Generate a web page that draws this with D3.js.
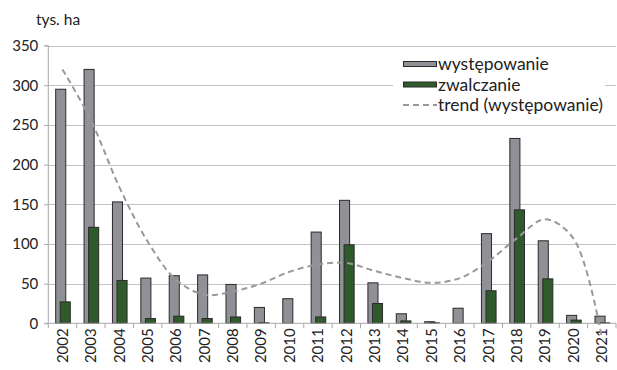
<!DOCTYPE html>
<html>
<head>
<meta charset="utf-8">
<script src="https://cdn.jsdelivr.net/npm/d3@7"></script>
<style>
  html, body { margin: 0; padding: 0; background: #fff; }
  svg { display: block; font-family: Lato, "Open Sans", sans-serif; }
</style>
</head>
<body>
<svg id="chart" width="617" height="370"></svg>
<script>
// Area affected (występowanie) and treated (zwalczanie), thousand ha
const years = ["2002","2003","2004","2005","2006","2007","2008","2009","2010","2011",
               "2012","2013","2014","2015","2016","2017","2018","2019","2020","2021"];
const wystepowanie = [295, 320, 153, 57, 60, 61, 49, 20, 31, 115,
                      155, 51, 12, 2, 19, 113, 233, 104, 10, 9];
const zwalczanie   = [27, 121, 54, 6, 9, 6, 8, 0.6, 0, 8,
                      99, 25, 3, 0.6, 0, 41, 143, 56, 4, 0.5];
// Polynomial trend of występowanie, sampled per year
const trend        = [320, 256, 172, 103, 55, 36, 40, 50, 65, 74,
                      76, 66, 57, 51, 57, 78, 107, 131, 107, -18];
const yTicks = [0, 50, 100, 150, 200, 250, 300, 350];
const legendLabels = ["występowanie", "zwalczanie", "trend (występowanie)"];

const svg = d3.select("#chart");
const plotLeft = 48.3, plotRight = 616, plotTop = 45.6, plotBottom = 323.3;

const x = d3.scaleBand().domain(years).range([plotLeft, plotRight]).padding(0);
const y = d3.scaleLinear().domain([0, 350]).range([plotBottom, plotTop]);
const bw = x.bandwidth();

const grayFill = "#909196", greenFill = "#2f5a2b", barStroke = "#2a2a2a";
const gridColor = "#c3c3c3", axisColor = "#a8a8a8", textColor = "#222";

// gridlines
svg.append("g").selectAll("line").data(yTicks.filter(d => d > 0)).join("line")
  .attr("x1", plotLeft).attr("x2", plotRight)
  .attr("y1", d => Math.round(y(d)) + 0.5).attr("y2", d => Math.round(y(d)) + 0.5)
  .attr("stroke", gridColor).attr("stroke-width", 1.2);

// y axis
const yAxis = svg.append("g").attr("transform", `translate(${plotLeft},0)`)
  .call(d3.axisLeft(y).tickValues(yTicks).tickSize(4).tickPadding(6));
yAxis.select(".domain").attr("stroke", axisColor).attr("d", `M-4,${y(350)}H0V${plotBottom}H-4`);
yAxis.selectAll(".tick line").attr("stroke", axisColor);
yAxis.selectAll(".tick text").attr("fill", textColor).style("font-size", "15px")
  .style("font-family", "Lato, sans-serif");

svg.append("text").attr("x", 36).attr("y", 25).attr("fill", textColor)
  .style("font-size", "15.5px").text("tys. ha");

// bars
const barW = bw * 0.355;
const g = svg.append("g");
g.selectAll("rect.w").data(years).join("rect").attr("class", "w")
  .attr("x", d => x(d) + bw * 0.26)
  .attr("y", (d, i) => y(wystepowanie[i]))
  .attr("width", barW)
  .attr("height", (d, i) => plotBottom - y(wystepowanie[i]))
  .attr("fill", grayFill).attr("stroke", barStroke).attr("stroke-width", 1);
g.selectAll("rect.z").data(years).join("rect").attr("class", "z")
  .attr("x", d => x(d) + bw * 0.42)
  .attr("y", (d, i) => y(zwalczanie[i]))
  .attr("width", barW)
  .attr("height", (d, i) => plotBottom - y(zwalczanie[i]))
  .attr("fill", greenFill).attr("stroke", barStroke).attr("stroke-width", 1);

// x axis
const xAxis = svg.append("g").attr("transform", `translate(0,${plotBottom})`)
  .call(d3.axisBottom(x).tickSize(0).tickPadding(0));
xAxis.select(".domain").attr("stroke", axisColor).attr("d", `M${plotLeft},0H${plotRight}`);
xAxis.selectAll(".tick text")
  .attr("fill", textColor).style("font-size", "15px").style("font-family", "Lato, sans-serif")
  .attr("text-anchor", "end").attr("transform", "rotate(-90)")
  .attr("x", -5).attr("y", 0).attr("dy", "0.35em");
svg.append("g").selectAll("line").data(years.concat(["end"])).join("line")
  .attr("x1", d => d === "end" ? plotRight : x(d)).attr("x2", d => d === "end" ? plotRight : x(d))
  .attr("y1", plotBottom).attr("y2", plotBottom + 5)
  .attr("stroke", axisColor);

// trend line
const line = d3.line()
  .x((d, i) => x(years[i]) + bw / 2)
  .y(d => y(d))
  .curve(d3.curveCatmullRom.alpha(0.5));
svg.append("path").datum(trend).attr("d", line)
  .attr("fill", "none").attr("stroke", "#999").attr("stroke-width", 2)
  .attr("stroke-dasharray", "6,4");

// legend
const lg = svg.append("g");
lg.append("rect").attr("x", 393).attr("y", 48).attr("width", 212).attr("height", 75).attr("fill", "#fff");
const rowY = [64, 84.5, 105];
lg.append("rect").attr("x", 403.5).attr("y", rowY[0] - 2.5).attr("width", 33).attr("height", 5)
  .attr("fill", grayFill).attr("stroke", barStroke).attr("stroke-width", 1);
lg.append("rect").attr("x", 403.5).attr("y", rowY[1] - 2.5).attr("width", 33).attr("height", 5)
  .attr("fill", greenFill).attr("stroke", barStroke).attr("stroke-width", 1);
lg.append("line").attr("x1", 403).attr("x2", 437).attr("y1", rowY[2]).attr("y2", rowY[2])
  .attr("stroke", "#999").attr("stroke-width", 2).attr("stroke-dasharray", "6,4");
lg.selectAll("text").data(legendLabels).join("text")
  .attr("x", 438).attr("y", (d, i) => rowY[i]).attr("dy", "0.35em")
  .attr("fill", textColor).style("font-size", "17.5px").text(d => d);
</script>
</body>
</html>
